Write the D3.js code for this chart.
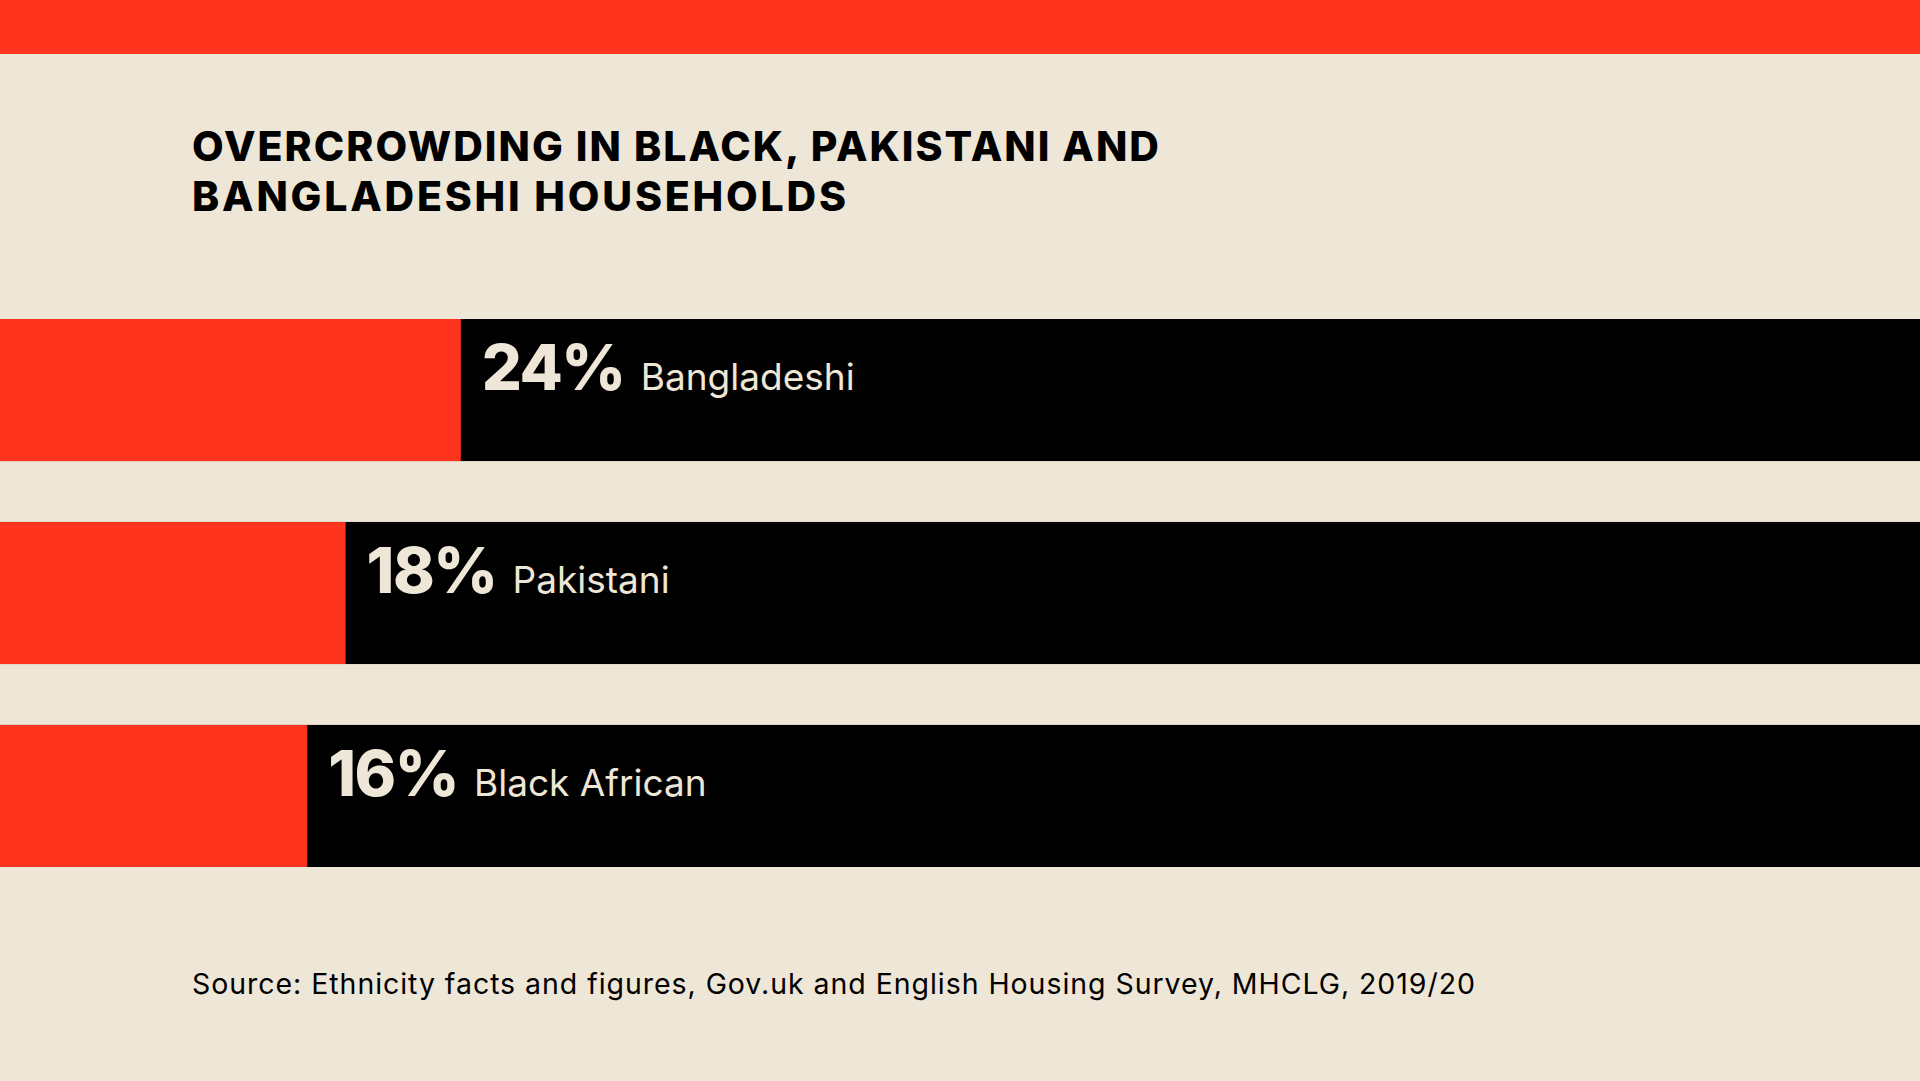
<!DOCTYPE html>
<html>
<head>
<meta charset="utf-8">
<script src="https://cdn.jsdelivr.net/npm/d3@7"></script>
<style>
  html, body { margin: 0; padding: 0; background: #EEE6D6; }
  svg { display: block; }
</style>
</head>
<body>
<script>
// ---- data ----
const categories = ["Bangladeshi", "Pakistani", "Black African"];
const values = [24, 18, 16];
const titleLines = ["OVERCROWDING IN BLACK, PAKISTANI AND", "BANGLADESHI HOUSEHOLDS"];
const sourceText = "Source: Ethnicity facts and figures, Gov.uk and English Housing Survey, MHCLG, 2019/20";

// ---- layout ----
const W = 1920, H = 1081;
const bg = "#EEE6D6", red = "#FF341E", black = "#000000";

const svg = d3.select("body").append("svg")
  .attr("width", W).attr("height", H);

svg.append("rect").attr("width", W).attr("height", H).attr("fill", bg);
// top band
svg.append("rect").attr("x", 0).attr("y", 0).attr("width", W).attr("height", 54).attr("fill", red);

// title
const titleWidths = [967, 654];
svg.append("g").selectAll("text").data(titleLines).join("text")
  .attr("x", 192)
  .attr("y", (d, i) => 161 + i * 50)
  .attr("font-family", "Inter, 'Liberation Sans', sans-serif")
  .attr("font-weight", 800)
  .attr("font-size", 41)
  .attr("fill", black)
  .attr("textLength", (d, i) => titleWidths[i])
  .attr("lengthAdjust", "spacing")
  .text(d => d);

// scales
const x = d3.scaleLinear().domain([0, 100]).range([0, W]);
const y = d3.scaleBand().domain(categories).range([319, 867]).paddingInner(0.3).paddingOuter(0);

const data = categories.map((c, i) => ({ cat: c, v: values[i] }));

const g = svg.append("g");
// full tracks (black)
g.selectAll("rect.track").data(data).join("rect")
  .attr("class", "track")
  .attr("x", x(0)).attr("width", x(100) - x(0))
  .attr("y", d => y(d.cat)).attr("height", y.bandwidth())
  .attr("fill", black);
// value bars (red)
g.selectAll("rect.val").data(data).join("rect")
  .attr("class", "val")
  .attr("x", x(0)).attr("width", d => x(d.v) - x(0))
  .attr("y", d => y(d.cat)).attr("height", y.bandwidth())
  .attr("fill", red);

// labels
const labels = g.selectAll("text.lab").data(data).join("text")
  .attr("class", "lab")
  .attr("x", d => x(d.v) + 21)
  .attr("y", d => y(d.cat) + 71)
  .attr("fill", bg)
  .attr("font-family", "Inter, 'Liberation Sans', sans-serif");
labels.append("tspan")
  .attr("font-weight", 800)
  .attr("font-size", 63)
  .attr("letter-spacing", -1.5)
  .text(d => d.v + "%");
labels.append("tspan")
  .attr("font-size", 37)
  .attr("font-weight", 400)
  .attr("dx", 16)
  .text(d => d.cat);

// source
svg.append("text")
  .attr("x", 192).attr("y", 994)
  .attr("font-family", "Inter, 'Liberation Sans', sans-serif")
  .attr("font-size", 28.5)
  .attr("fill", black)
  .attr("textLength", 1283)
  .attr("lengthAdjust", "spacing")
  .text(sourceText);
</script>
</body>
</html>
